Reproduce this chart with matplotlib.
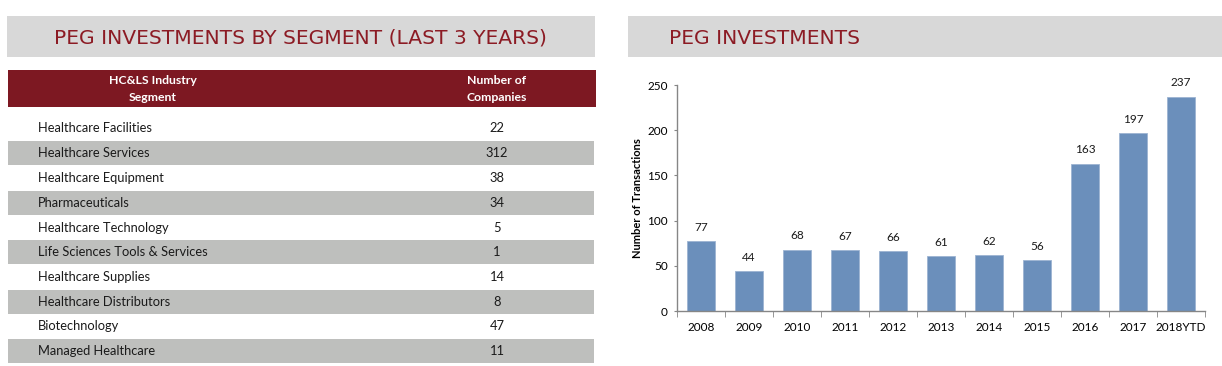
import matplotlib
matplotlib.use("Agg")
import matplotlib.pyplot as plt
from matplotlib.patches import Rectangle

# ---- data ----
segments = ["Healthcare Facilities", "Healthcare Services", "Healthcare Equipment",
            "Pharmaceuticals", "Healthcare Technology", "Life Sciences Tools & Services",
            "Healthcare Supplies", "Healthcare Distributors", "Biotechnology",
            "Managed Healthcare"]
companies = [22, 312, 38, 34, 5, 1, 14, 8, 47, 11]

years = ["2008", "2009", "2010", "2011", "2012", "2013", "2014", "2015",
         "2016", "2017", "2018YTD"]
transactions = [77, 44, 68, 67, 66, 61, 62, 56, 163, 197, 237]

left_title = "PEG INVESTMENTS BY SEGMENT (LAST 3 YEARS)"
right_title = "PEG INVESTMENTS"
col_headers = ["HC&LS Industry\nSegment", "Number of\nCompanies"]
y_label = "Number of Transactions"

FONT = "Lato"
TITLE_FONT = "DejaVu Sans"
MAROON = "#7D1822"
TITLE_RED = "#8C1B24"
BAND_GRAY = "#D8D8D8"
ROW_GRAY = "#BEBFBD"
BAR = "#6B8FBB"

W, H = 1222, 366
fig = plt.figure(figsize=(W / 100, H / 100), dpi=100)

# background canvas axes in pixel coords
bg = fig.add_axes([0, 0, 1, 1])
bg.set_xlim(0, W)
bg.set_ylim(H, 0)
bg.axis("off")

# header bands
bg.add_patch(Rectangle((7, 16), 588, 41, color=BAND_GRAY, lw=0))
bg.add_patch(Rectangle((628, 16), W - 628, 41, color=BAND_GRAY, lw=0))
bg.text(300, 38.5, left_title, ha="center", va="center", color=TITLE_RED,
        fontsize=14.6, family=TITLE_FONT)
bg.text(669, 38.5, right_title, ha="left", va="center", color=TITLE_RED,
        fontsize=14.6, family=TITLE_FONT)

# table header
bg.add_patch(Rectangle((8, 70), 588, 37, color=MAROON, lw=0))
bg.text(153, 89, col_headers[0], ha="center", va="center", color="white",
        fontsize=8.8, family=FONT, fontweight="bold", linespacing=1.7)
bg.text(497, 89, col_headers[1], ha="center", va="center", color="white",
        fontsize=8.8, family=FONT, fontweight="bold", linespacing=1.7)

# table rows
row0 = 128.5
step = 24.75
for i, (seg, n) in enumerate(zip(segments, companies)):
    yc = row0 + i * step
    if i % 2 == 1:
        bg.add_patch(Rectangle((8, yc - 11.8), 586, 23.6, color=ROW_GRAY, lw=0))
    bg.text(38, yc, seg, ha="left", va="center", color="#1a1a1a",
            fontsize=9.3, family=FONT)
    bg.text(497, yc, str(n), ha="center", va="center", color="#1a1a1a",
            fontsize=9.3, family=FONT)

# bar chart
ax = fig.add_axes([677 / W, 1 - 311 / H, (1205 - 677) / W, (311 - 85) / H])
x = range(len(years))
ax.bar(x, transactions, width=0.58, color=BAR, edgecolor="#9DB4D2", linewidth=0.6)
ax.set_xlim(-0.5, len(years) - 0.5)
ax.set_ylim(0, 250)
ax.set_yticks([0, 50, 100, 150, 200, 250])
ax.set_xticks(list(x))
ax.set_xticklabels(years, family=FONT, fontsize=8.5)
ax.set_xticks([i + 0.5 for i in range(-1, len(years))], minor=True)
ax.tick_params(axis="x", which="major", length=0, pad=8)
ax.tick_params(axis="x", which="minor", length=4, direction="out", color="#868686")
ax.tick_params(axis="y", length=2.5, direction="out", color="#868686", pad=4)
for lab in ax.get_yticklabels():
    lab.set_family(FONT)
    lab.set_fontsize(8.5)
for s in ["top", "right"]:
    ax.spines[s].set_visible(False)
for s in ["left", "bottom"]:
    ax.spines[s].set_color("#868686")
    ax.spines[s].set_linewidth(1.0)
ax.set_ylabel(y_label, family=FONT, fontsize=8, fontweight="bold", labelpad=3)
for xi, v in zip(x, transactions):
    ax.annotate(str(v), (xi, v), xytext=(0, 6), textcoords="offset points",
                ha="center", va="bottom", family=FONT, fontsize=8.5, color="#1a1a1a")
ax.patch.set_alpha(0)

fig.savefig("out.png", dpi=100)
